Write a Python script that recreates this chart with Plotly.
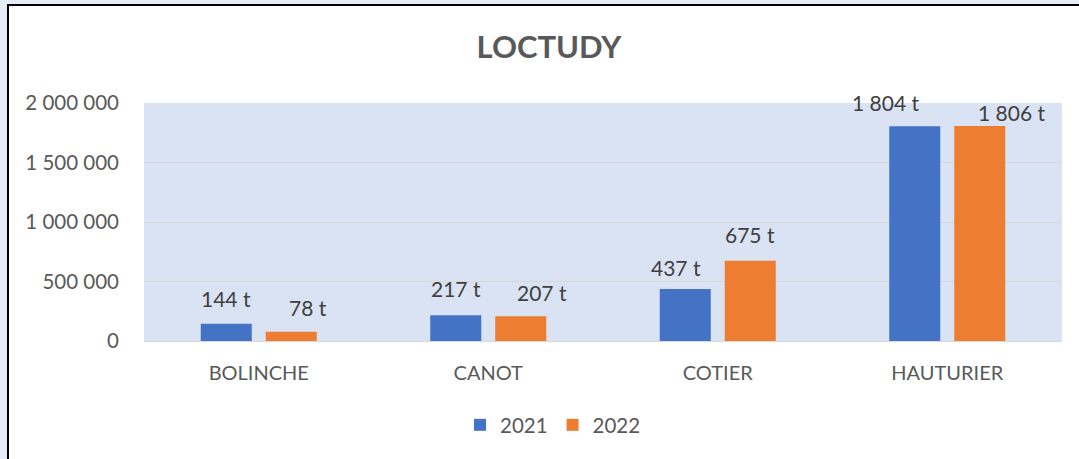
import plotly.graph_objects as go

# ---- data ----
categories = ["BOLINCHE", "CANOT", "COTIER", "HAUTURIER"]
series_names = ["2021", "2022"]
values_2021 = [144000, 217000, 437000, 1804000]
values_2022 = [78000, 207000, 675000, 1806000]
y_ticks = [0, 500000, 1000000, 1500000, 2000000]

# ---- styles / layout ----
colors = ["#4472C4", "#ED7D31"]
# label nudges in pixels (x shift, distance of label centre above bar top)
label_dx = [[0, 0, -9, -29], [17, 21, 0, 32]]
label_dy = [[25, 27, 22, 24], [24, 24, 26, 14]]

FIG_W, FIG_H = 1079, 459
L, R, T, B = 144, 1062, 103, 341
W, H = R - L, B - T
BARGAP = 0.4336
BARGROUPGAP = 0.215

def px_x(x):
    return (x - L) / W

def px_y(y):
    return (B - y) / H

def fmt(v):
    return f"{round(v / 1000):,} t".replace(",", " ")

fig = go.Figure()
all_series = [values_2021, values_2022]
for name, vals, col in zip(series_names, all_series, colors):
    fig.add_trace(go.Bar(x=categories, y=vals, name=name, marker_color=col,
                         marker_line_width=0))

# data labels as annotations anchored to bar values
cat_px = W / len(categories)
slot_px = cat_px * (1 - BARGAP) / len(all_series)
annotations = []
for si, vals in enumerate(all_series):
    base = (si - (len(all_series) - 1) / 2) * slot_px
    for ci, (c, v) in enumerate(zip(categories, vals)):
        annotations.append(dict(
            x=c, y=v, xref="x", yref="y", text=fmt(v), showarrow=False,
            xanchor="center", yanchor="middle",
            xshift=base + label_dx[si][ci], yshift=label_dy[si][ci],
            font=dict(family="Lato", size=21, color="#404040"),
        ))

shapes = [
    # light-blue outer strips
    dict(type="rect", xref="paper", yref="paper", x0=px_x(0), x1=px_x(7),
         y0=px_y(FIG_H + 5), y1=px_y(-5), fillcolor="#E4ECF5", line_width=0),
    dict(type="rect", xref="paper", yref="paper", x0=px_x(0), x1=px_x(FIG_W + 5),
         y0=px_y(4), y1=px_y(-5), fillcolor="#E4ECF5", line_width=0),
    # black border (left and top)
    dict(type="line", xref="paper", yref="paper", x0=px_x(8), x1=px_x(8),
         y0=px_y(5), y1=px_y(FIG_H + 5), line=dict(color="#000000", width=2)),
    dict(type="line", xref="paper", yref="paper", x0=px_x(7), x1=px_x(FIG_W + 5),
         y0=px_y(5), y1=px_y(5), line=dict(color="#000000", width=2)),
]

fig.update_layout(
    width=FIG_W, height=FIG_H,
    margin=dict(l=L, r=FIG_W - R, t=T, b=FIG_H - B, pad=0),
    paper_bgcolor="#FFFFFF", plot_bgcolor="#DAE3F3",
    barmode="group", bargap=BARGAP, bargroupgap=BARGROUPGAP,
    separators=", ",
    font=dict(family="Lato", size=20, color="#595959"),
    title=dict(text="<b>LOCTUDY</b>", x=549 / FIG_W, y=1 - 47 / FIG_H,
               xref="container", yref="container", xanchor="center", yanchor="middle",
               font=dict(family="Lato", size=31, color="#595959")),
    legend=dict(orientation="h", x=px_x(553), y=px_y(425), xanchor="center",
                yanchor="middle", font=dict(family="Lato", size=20.5, color="#595959"),
                bgcolor="rgba(0,0,0,0)"),
    annotations=annotations,
    shapes=shapes,
    showlegend=True,
)
fig.update_yaxes(range=[0, 2000000], tickvals=y_ticks, tickformat=",d",
                 showgrid=True, gridcolor="#D9D9D9", gridwidth=1,
                 zeroline=True, zerolinecolor="#D9D9D9", zerolinewidth=1,
                 showline=False, ticks="", ticklabelstandoff=24,
                 tickfont=dict(family="Lato", size=20.5, color="#595959"))
fig.update_xaxes(showline=False, ticks="", ticklabelstandoff=18,
                 tickfont=dict(family="Lato", size=20, color="#595959"))

fig.write_html("out.html", config={"displayModeBar": False},
               post_script="document.body.style.margin='0';document.body.style.overflow='hidden';")
